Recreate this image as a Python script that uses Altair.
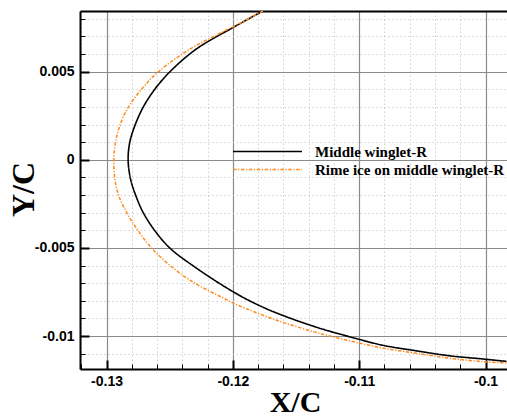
import altair as alt
import pandas as pd

series_names = ["Middle winglet-R", "Rime ice on middle winglet-R"]

clean_x = [-0.11762, -0.11907, -0.1200, -0.12292, -0.1250, -0.12618, -0.12711, -0.12776, -0.12816, -0.12829,
           -0.1281, -0.12768, -0.12711, -0.12618, -0.1250, -0.12302, -0.1200,
           -0.11814, -0.1163, -0.11338, -0.11077, -0.10816, -0.10547, -0.10286, -0.10024, -0.09834]
clean_y = [0.00844, 0.00787, 0.0075, 0.00627, 0.00498, 0.0040, 0.00297, 0.00193, 0.00099, 0.0,
           -0.00109, -0.00204, -0.00298, -0.00402, -0.0050, -0.00608, -0.00748,
           -0.00819, -0.00876, -0.0095, -0.01004, -0.01052, -0.01084, -0.01112, -0.0113, -0.01144]

rime_x = [-0.11762, -0.1196, -0.12118, -0.12342, -0.12592, -0.12723, -0.12829, -0.12895, -0.12929, -0.12942,
          -0.12934, -0.12903, -0.12842, -0.1275, -0.12644, -0.12473, -0.12302, -0.12091, -0.1196,
          -0.1171, -0.11606, -0.11338, -0.11077, -0.10816, -0.10547, -0.10286, -0.10024, -0.09834]
rime_y = [0.00844, 0.00768, 0.00712, 0.00627, 0.00498, 0.0040, 0.00297, 0.00193, 0.00099, 0.0,
          -0.00109, -0.00204, -0.00298, -0.00402, -0.0050, -0.00614, -0.0070, -0.00779, -0.00825,
          -0.00896, -0.00922, -0.0098, -0.01027, -0.01068, -0.01098, -0.01126, -0.01145, -0.01153]

x_domain = [-0.1321, -0.0983]
y_domain = [-0.01187, 0.00844]
x_ticks = [round(-0.132 + 0.002 * i, 3) for i in range(18)]
y_ticks = [round(-0.011 + 0.001 * i, 3) for i in range(20)] + [y_domain[1]]

rows = []
for name, xs, ys in [(series_names[0], clean_x, clean_y), (series_names[1], rime_x, rime_y)]:
    for i, (x, y) in enumerate(zip(xs, ys)):
        rows.append({"series": name, "x": x, "y": y, "order": i})
df = pd.DataFrame(rows)

W, H = 427, 358
xmaj = "(abs(datum.value*100 - round(datum.value*100)) < 1e-6)"
ymaj = "(abs(datum.value*200 - round(datum.value*200)) < 1e-6)"
ytop = "(datum.value > 0.0084)"

x_axis = alt.Axis(
    values=x_ticks,
    title="X/C",
    labelExpr=f"{xmaj} ? '' + datum.value : ''",
    labelFont="Liberation Sans", labelFontWeight="bold", labelFontSize=14, labelColor="black",
    labelPadding=14, labelBaseline="top", labelAlign="center", labelFlush=False, labelOverlap=False,
    tickSize=alt.ExprRef(expr=f"{xmaj} ? -9 : -5"),
    tickWidth=alt.ExprRef(expr=f"{xmaj} ? 2 : 1"),
    tickColor="black",
    domainColor="black", domainWidth=2,
    grid=True,
    gridColor=alt.ExprRef(expr=f"{xmaj} ? '#8a8a8a' : '#cfcfcf'"),
    gridWidth=alt.ExprRef(expr=f"{xmaj} ? 1.2 : 1"),
    gridDash=alt.ExprRef(expr=f"{xmaj} ? [] : [1.5, 2.5]"),
    gridOpacity=1,
    titleFont="Liberation Serif", titleFontSize=30, titleFontWeight="bold", titleColor="black",
    titleX=215, titleY=42, titleBaseline="alphabetic", titleAlign="center",
)

y_axis = alt.Axis(
    values=y_ticks,
    title="Y/C",
    labelExpr=f"{ymaj} ? '' + datum.value : ''",
    labelFont="Liberation Sans", labelFontWeight="bold", labelFontSize=14, labelColor="black",
    labelPadding=15, labelBaseline="middle", labelAlign="right", labelFlush=False, labelOverlap=False,
    tickSize=alt.ExprRef(expr=f"{ytop} ? 0 : ({ymaj} ? -9 : -5)"),
    tickWidth=alt.ExprRef(expr=f"{ymaj} ? 2 : 1"),
    tickColor="black",
    domainColor="black", domainWidth=2,
    grid=True,
    gridColor=alt.ExprRef(expr=f"{ytop} ? 'black' : ({ymaj} ? '#8a8a8a' : '#cfcfcf')"),
    gridWidth=alt.ExprRef(expr=f"{ytop} ? 2.2 : ({ymaj} ? 1.2 : 1)"),
    gridDash=alt.ExprRef(expr=f"({ytop} || {ymaj}) ? [] : [1.5, 2.5]"),
    gridOpacity=1,
    titleFont="Liberation Serif", titleFontSize=32, titleFontWeight="bold", titleColor="black",
    titleAngle=270, titleX=-47, titleY=178, titleBaseline="alphabetic", titleAlign="center",
)

legend = alt.Legend(
    orient="none", legendX=152, legendY=133, title=None,
    symbolType="stroke", symbolSize=4761, symbolStrokeWidth=1.6,
    labelFont="Liberation Serif", labelFontWeight="bold", labelFontSize=15, labelColor="black",
    labelOffset=12, labelLimit=400, rowPadding=2, padding=0, clipHeight=15,
)

chart = alt.Chart(df).mark_line(interpolate="catmull-rom", clip=True).encode(
    x=alt.X("x:Q", scale=alt.Scale(domain=x_domain, nice=False, zero=False), axis=x_axis),
    y=alt.Y("y:Q", scale=alt.Scale(domain=y_domain, nice=False, zero=False), axis=y_axis),
    order="order:Q",
    color=alt.Color("series:N", scale=alt.Scale(domain=series_names, range=["black", "#FF8A1E"]), legend=legend),
    strokeDash=alt.StrokeDash("series:N", scale=alt.Scale(domain=series_names, range=[[1, 0], [3.5, 1.6, 1.2, 1.6]]), legend=legend),
    strokeWidth=alt.StrokeWidth("series:N", scale=alt.Scale(domain=series_names, range=[1.6, 1.5]), legend=None),
).properties(
    width=W, height=H,
    autosize=alt.AutoSizeParams(type="none"),
    padding={"left": 80, "top": 11, "right": 0, "bottom": 48},
    background="white",
).configure_view(stroke=None).configure_legend(
    labelFont="Liberation Serif", labelFontWeight="bold", labelFontSize=15, labelColor="black",
)

chart.save("out.html", embed_options={"renderer": "svg", "actions": False})
